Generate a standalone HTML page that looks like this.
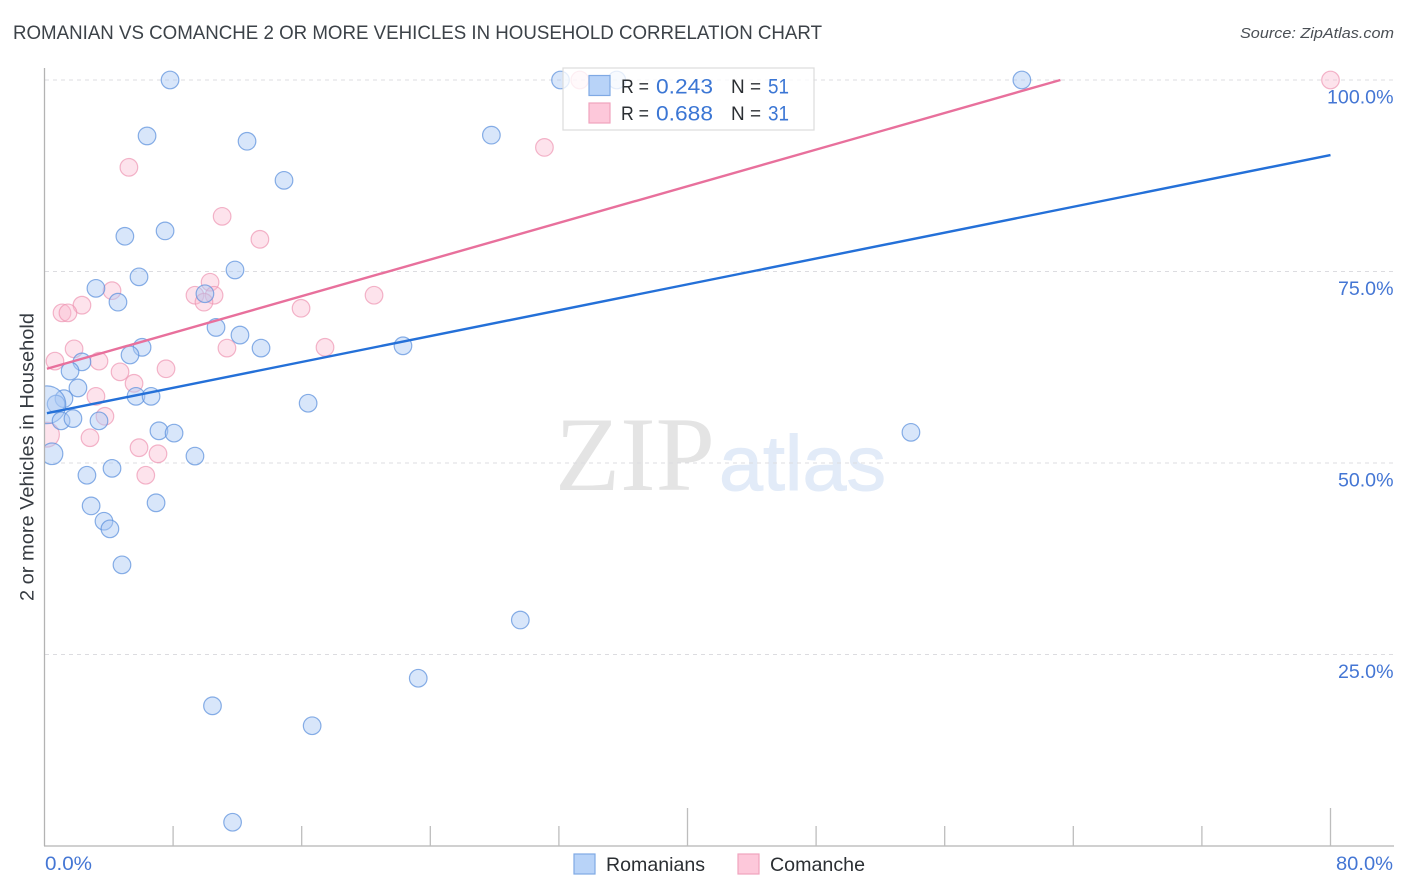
<!DOCTYPE html>
<html lang="en">
<head>
<meta charset="utf-8">
<title>Romanian vs Comanche 2 or More Vehicles in Household Correlation Chart</title>
<style>
html,body{margin:0;padding:0;background:#fff;}
#chart{display:block;width:1406px;height:892px;font-family:"Liberation Sans",sans-serif;}
</style>
</head>
<body>
<svg id="chart" xmlns="http://www.w3.org/2000/svg" width="1406" height="892" viewBox="0 0 1406 892">
  <defs>
    <clipPath id="plot-clip"><rect x="44.5" y="60" width="1350" height="786"></rect></clipPath>
  </defs>
  <text x="13" y="39" font-size="19" fill="#3c4248" textLength="809" lengthAdjust="spacingAndGlyphs">ROMANIAN VS COMANCHE 2 OR MORE VEHICLES IN HOUSEHOLD CORRELATION CHART</text>
  <text x="1394" y="38" font-size="15" font-style="italic" fill="#4a4f55" text-anchor="end" textLength="154" lengthAdjust="spacingAndGlyphs">Source: ZipAtlas.com</text>

  <g>
    <text x="555" y="490" font-family="'Liberation Serif',serif" font-size="106" fill="#e4e4e4" textLength="160" lengthAdjust="spacingAndGlyphs">ZIP</text>
    <text x="719" y="490" font-size="78" fill="#e2ebf8" stroke="#e2ebf8" stroke-width="1" textLength="167" lengthAdjust="spacingAndGlyphs">atlas</text>
  </g>

  <g id="grid"></g>
  <g id="y-labels"></g>
  <g id="points" clip-path="url(#plot-clip)"></g>
  <g id="trends"></g>

  <g id="axes">
    <line x1="44.5" y1="68" x2="44.5" y2="846" stroke="#b3b3b3" stroke-width="1.3"></line>
    <line x1="44" y1="846" x2="1394" y2="846" stroke="#b3b3b3" stroke-width="1.3"></line>
  </g>
  <g id="x-ticks"></g>

  <text transform="translate(33.5,457) rotate(-90)" font-size="19" fill="#363b41" text-anchor="middle" textLength="288" lengthAdjust="spacingAndGlyphs">2 or more Vehicles in Household</text>
  <text x="45" y="870" font-size="19" fill="#4476d4" textLength="47" lengthAdjust="spacingAndGlyphs">0.0%</text>
  <text x="1393" y="870" font-size="19" fill="#4476d4" text-anchor="end" textLength="57" lengthAdjust="spacingAndGlyphs">80.0%</text>

  <g>
    <rect x="563" y="68" width="251" height="62" fill="#ffffff" fill-opacity="0.78" stroke="#dcdcdc" stroke-width="1.2"></rect>
    <rect x="589" y="75.5" width="21" height="20" fill="#b8d3f8" stroke="#7fa9e4" stroke-width="1.2"></rect>
    <rect x="589" y="103" width="21" height="20" fill="#fdc8da" stroke="#f0a3bd" stroke-width="1.2"></rect>
    <text x="621" y="93" font-size="19.5" fill="#2b2f33" textLength="28" lengthAdjust="spacingAndGlyphs">R =</text>
    <text x="656" y="93.5" font-size="21.5" fill="#3b76d4" textLength="57" lengthAdjust="spacingAndGlyphs">0.243</text>
    <text x="731" y="93" font-size="19.5" fill="#2b2f33" textLength="30" lengthAdjust="spacingAndGlyphs">N =</text>
    <text x="768" y="93.5" font-size="21.5" fill="#3b76d4" textLength="21" lengthAdjust="spacingAndGlyphs">51</text>
    <text x="621" y="120" font-size="19.5" fill="#2b2f33" textLength="28" lengthAdjust="spacingAndGlyphs">R =</text>
    <text x="656" y="120.5" font-size="21.5" fill="#3b76d4" textLength="57" lengthAdjust="spacingAndGlyphs">0.688</text>
    <text x="731" y="120" font-size="19.5" fill="#2b2f33" textLength="30" lengthAdjust="spacingAndGlyphs">N =</text>
    <text x="768" y="120.5" font-size="21.5" fill="#3b76d4" textLength="21" lengthAdjust="spacingAndGlyphs">31</text>
  </g>

  <g>
    <g>
      <rect x="574" y="854" width="21" height="20" fill="#b8d3f8" stroke="#7fa9e4" stroke-width="1.2"></rect>
      <text x="606" y="871" font-size="19.5" fill="#2b2f33" textLength="99" lengthAdjust="spacingAndGlyphs">Romanians</text>
    </g>
    <g>
      <rect x="738" y="854" width="21" height="20" fill="#fdc8da" stroke="#f0a3bd" stroke-width="1.2"></rect>
      <text x="770" y="871" font-size="19.5" fill="#2b2f33" textLength="95" lengthAdjust="spacingAndGlyphs">Comanche</text>
    </g>
  </g>
</svg>
<script>
const romaniansX = [7.81,6.38,12.6,14.9,5.0,7.5,5.88,3.2,4.57,11.85,9.98,10.67,12.16,13.47,6.07,5.32,2.33,1.59,2.08,5.69,6.63,1.21,0.72,0.15,1.03,1.77,3.39,7.12,8.06,9.36,0.47,4.2,2.64,2.9,6.94,3.7,4.07,4.82,16.4,22.3,27.8,32.1,35.6,60.8,53.9,29.6,23.25,10.45,16.65,11.7];
const romaniansY = [100,92.7,92.0,86.9,79.6,80.3,74.3,72.8,71.0,75.2,72.1,67.7,66.7,65.0,65.1,64.1,63.2,62.0,59.8,58.7,58.7,58.4,57.7,57.6,55.5,55.8,55.5,54.2,53.9,50.9,51.2,49.3,48.4,44.4,44.8,42.4,41.4,36.7,57.8,65.3,92.8,100,100,100,54.0,29.5,21.9,18.3,15.7,3.1];
const romaniansWeight = [1,1,1,1,1,1,1,1,1,1,1,1,1,1,1,1,1,1,1,1,1,1,1,4.6,1,1,1,1,1,1,1.5,1,1,1,1,1,1,1,1,1,1,1,1,1,1,1,1,1,1,1];
const comancheX = [5.25,31.1,33.3,80,11.05,13.4,10.3,4.2,9.36,10.55,9.92,20.5,15.96,2.33,1.09,1.46,11.35,17.45,1.84,0.65,3.39,7.56,4.7,5.57,3.2,3.76,2.83,0.15,5.88,7.06,6.3];
const comancheY = [88.6,91.2,100,100,82.2,79.2,73.6,72.5,71.9,71.9,71.0,71.9,70.2,70.6,69.6,69.6,65.0,65.1,64.9,63.3,63.3,62.3,61.9,60.4,58.7,56.1,53.3,53.7,52.0,51.2,48.4];
const comancheWeight = [1,1,1,1,1,1,1,1,1,1,1,1,1,1,1,1,1,1,1,1,1,1,1,1,1,1,1,2,1,1,1];
const romaniansTrendX = [0.15,80];
const romaniansTrendY = [56.5,90.2];
const comancheTrendX = [0.15,63.2];
const comancheTrendY = [62.3,100];
const yTicks = [25,50,75,100];
const yTickLabels = ["25.0%","50.0%","75.0%","100.0%"];
const xTicks = [0,8,16,24,32,40,48,56,64,72,80];
const xMajorTicks = [40,80];

const SVGNS = "http://www.w3.org/2000/svg";
const sx = v => 44.5 + v * (1330.5 - 44.5) / 80;
const sy = v => 846 - v * (846 - 80) / 100;
function mk(tag, attrs, parent) {
  const el = document.createElementNS(SVGNS, tag);
  for (const k in attrs) el.setAttribute(k, attrs[k]);
  parent.appendChild(el);
  return el;
}

const gridG = document.getElementById("grid");
const labelG = document.getElementById("y-labels");
yTicks.forEach((t, i) => {
  const ln = mk("line", {x1: 45, y1: sy(t), x2: 1393, y2: sy(t), stroke: "#dcdce0", "stroke-width": 1, "stroke-dasharray": "4 4"}, gridG);
  
  
  const tx = mk("text", {x: 1393.5, y: sy(t) + 23.5, "font-size": 19.6, fill: "#4476d4", "text-anchor": "end"}, labelG);
  
  
  tx.textContent = yTickLabels[i];
});

const tickG = document.getElementById("x-ticks");
xTicks.forEach(t => {
  const top = xMajorTicks.includes(t) ? 808 : 826;
  if (t === 0) return;
  const ln = mk("line", {x1: sx(t), y1: top, x2: sx(t), y2: 846, stroke: "#bdbdbd", "stroke-width": 1.3}, tickG);
  
  
});

const pointsG = document.getElementById("points");
comancheX.forEach((x, i) => {
  const c = mk("circle", {cx: sx(x), cy: sy(comancheY[i]), r: 8.8 * Math.sqrt(comancheWeight[i]), fill: "#f9b8cf", "fill-opacity": 0.4, stroke: "#ec8fae", "stroke-opacity": 0.65, "stroke-width": 1.2}, pointsG);
  
  
});
romaniansX.forEach((x, i) => {
  const c = mk("circle", {cx: sx(x), cy: sy(romaniansY[i]), r: 8.8 * Math.sqrt(romaniansWeight[i]), fill: "#a9c8f4", "fill-opacity": 0.46, stroke: "#5c90dc", "stroke-opacity": 0.72, "stroke-width": 1.2}, pointsG);
  
  
});

const trendsG = document.getElementById("trends");
const blueLine = mk("line", {x1: sx(romaniansTrendX[0]), y1: sy(romaniansTrendY[0]), x2: sx(romaniansTrendX[1]), y2: sy(romaniansTrendY[1]), stroke: "#2470d8", "stroke-width": 2.4}, trendsG);


const pinkLine = mk("line", {x1: sx(comancheTrendX[0]), y1: sy(comancheTrendY[0]), x2: sx(comancheTrendX[1]), y2: sy(comancheTrendY[1]), stroke: "#e8709c", "stroke-width": 2.4}, trendsG);


</script>
</body>
</html>
